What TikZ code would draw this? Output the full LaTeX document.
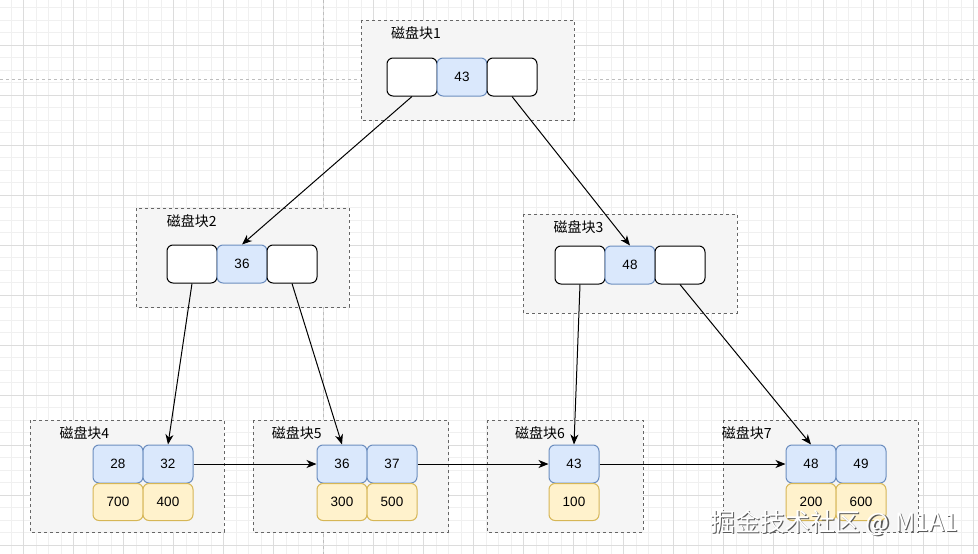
\documentclass[tikz,border=0pt]{standalone}
\usepackage{fontspec}
\setmainfont{Liberation Sans}
\newfontfamily\cjk{Noto Sans CJK SC}
\usetikzlibrary{arrows.meta}
\definecolor{bluefill}{HTML}{DAE8FC}
\definecolor{bluedraw}{HTML}{6C8EBF}
\definecolor{yelfill}{HTML}{FFF2CC}
\definecolor{yeldraw}{HTML}{D6B656}
\definecolor{blockfill}{HTML}{F5F5F5}
\definecolor{blockdraw}{HTML}{666666}
\definecolor{gridminor}{HTML}{F0F0F0}
\definecolor{gridmajor}{HTML}{DCDCDC}
\definecolor{pagebreak}{HTML}{BDBDBD}
\tikzset{
  blockbox/.style={draw=blockdraw, fill=blockfill, line width=0.9pt, dash pattern=on 3pt off 3pt},
  cellbase/.style={minimum width=50pt, minimum height=38pt, inner sep=0pt, rounded corners=6pt, line width=1pt, font=\fontsize{13.5}{16}\selectfont},
  whitecell/.style={cellbase, draw=black, fill=white},
  bluecell/.style={cellbase, draw=bluedraw, fill=bluefill},
  yelcell/.style={cellbase, draw=yeldraw, fill=yelfill, minimum height=37pt},
  blocklabel/.style={anchor=west, inner sep=0pt, font=\cjk\fontsize{14}{16}\selectfont},
  arr/.style={line width=1pt, -{Stealth[length=10pt,width=8pt,inset=3pt]}},
  wm/.style={anchor=west, inner sep=0pt, font=\cjk\fontsize{25}{28}\selectfont}
}
\begin{document}
\begin{tikzpicture}[x=1pt,y=-1pt]
\useasboundingbox (0,0) rectangle (978,554);
\fill[white] (0,0) rectangle (978,554);
% grid
\foreach \i in {0,...,79} {
  \pgfmathsetmacro{\gx}{-1.67+12.5*\i}
  \draw[gridminor, line width=0.6pt] (\gx,0) -- (\gx,554);
}
\foreach \j in {0,...,44} {
  \pgfmathsetmacro{\gy}{7.5+12.5*\j}
  \draw[gridminor, line width=0.6pt] (0,\gy) -- (978,\gy);
}
\foreach \i in {0,...,19} {
  \pgfmathsetmacro{\gx}{23.33+50*\i}
  \draw[gridmajor, line width=0.7pt] (\gx,0) -- (\gx,554);
}
\foreach \j in {0,...,10} {
  \pgfmathsetmacro{\gy}{45+50*\j}
  \draw[gridmajor, line width=0.7pt] (0,\gy) -- (978,\gy);
}
% page break lines
\draw[pagebreak, line width=0.8pt, dash pattern=on 3pt off 3pt] (0,79.3) -- (978,79.3);
\draw[pagebreak, line width=0.8pt, dash pattern=on 3pt off 3pt] (323.3,0) -- (323.3,554);
% blocks
\draw[blockbox] (361,20) rectangle (574,120);
\draw[blockbox] (136,208) rectangle (349,307);
\draw[blockbox] (523,214) rectangle (737,313);
\draw[blockbox] (30,420) rectangle (224,532);
\draw[blockbox] (253,420) rectangle (448,532);
\draw[blockbox] (487,420) rectangle (643,532);
\draw[blockbox] (723,420) rectangle (918,532);
% labels
\node[blocklabel] (t1) at (391,33.5) {磁盘块1};
\node[blocklabel] (t2) at (166.7,221.5) {磁盘块2};
\node[blocklabel] (t3) at (553.3,226.7) {磁盘块3};
\node[blocklabel] (t4) at (59.3,433.5) {磁盘块4};
\node[blocklabel] (t5) at (271.7,433.5) {磁盘块5};
\node[blocklabel] (t6) at (515,433.5) {磁盘块6};
\node[blocklabel] (t7) at (721.7,433.5) {磁盘块7};
% block 1
\node[whitecell] (a1) at (412,77) {};
\node[bluecell] (a2) at (462,77) {43};
\node[whitecell] (a3) at (512,77) {};
% block 2
\node[whitecell] (b1) at (192,264) {};
\node[bluecell] (b2) at (242,264) {36};
\node[whitecell] (b3) at (292,264) {};
% block 3
\node[whitecell] (c1) at (580,265) {};
\node[bluecell] (c2) at (630,265) {48};
\node[whitecell] (c3) at (680,265) {};
% block 4
\node[bluecell] (d1) at (118,464) {28};
\node[bluecell] (d2) at (168,464) {32};
\node[yelcell] (d3) at (118,502) {700};
\node[yelcell] (d4) at (168,502) {400};
% block 5
\node[bluecell] (e1) at (342,464) {36};
\node[bluecell] (e2) at (392,464) {37};
\node[yelcell] (e3) at (342,502) {300};
\node[yelcell] (e4) at (392,502) {500};
% block 6
\node[bluecell] (f1) at (574,464) {43};
\node[yelcell] (f2) at (574,502) {100};
% block 7
\node[bluecell] (g1) at (811,464) {48};
\node[bluecell] (g2) at (861,464) {49};
\node[yelcell] (g3) at (811,502) {200};
\node[yelcell] (g4) at (861,502) {600};
% arrows
\draw[arr] (a1.south) -- (b2.north);
\draw[arr] (a3.south) -- (c2.north);
\draw[arr] (b1.south) -- (d2.north);
\draw[arr] (b3.south) -- (e1.north);
\draw[arr] (c1.south) -- (f1.north);
\draw[arr] (c3.south) -- (g1.north);
\draw[arr] (d2.east) -- (e1.west);
\draw[arr] (e2.east) -- (f1.west);
\draw[arr] (f1.east) -- (g1.west);
% watermark
\node[wm, text=black!65] (wms) at (711.2,524.2) {掘金技术社区 @ M1A1};
\node[wm, text=white] (wmk) at (710,523) {掘金技术社区 @ M1A1};
\end{tikzpicture}
\end{document}
